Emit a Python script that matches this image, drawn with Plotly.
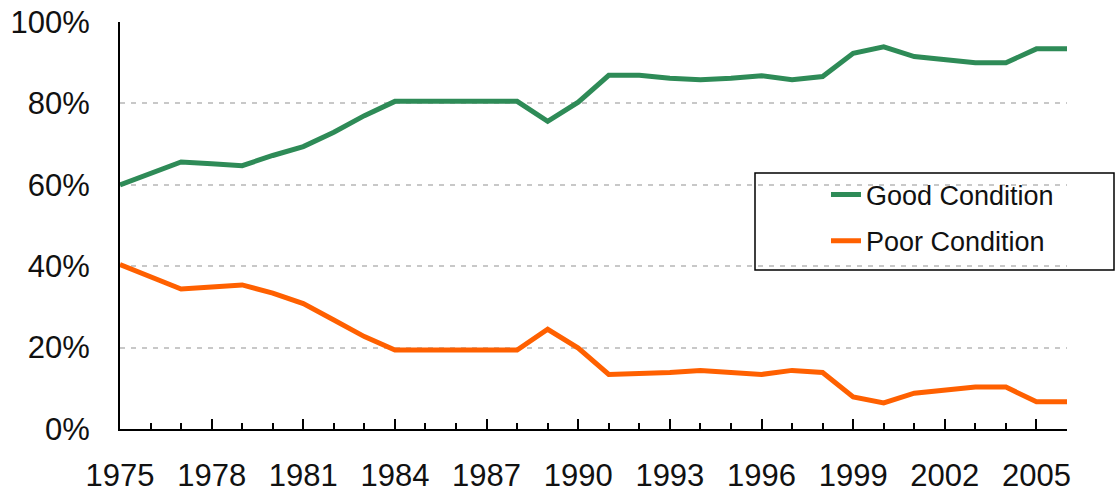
import plotly.graph_objects as go

years = list(range(1975, 2007))
good = [60.0, 62.8, 65.6, 65.2, 64.7, 67.2, 69.4, 72.9, 77.0, 80.5,
        80.5, 80.5, 80.5, 80.5, 75.6, 80.3, 86.9, 86.9, 86.2, 85.8,
        86.2, 86.8, 85.8, 86.6, 92.3, 93.9, 91.5, 90.8, 90.0, 90.0,
        93.4, 93.4]
poor = [40.4, 37.4, 34.4, 34.9, 35.4, 33.4, 30.8, 26.8, 22.7, 19.4,
        19.4, 19.4, 19.4, 19.4, 24.5, 19.9, 13.4, 13.5, 13.9, 14.4,
        14.0, 13.4, 14.4, 13.9, 7.9, 6.4, 8.8, 9.4, 10.3, 10.3,
        6.7, 6.7]
series_names = ["Good Condition", "Poor Condition"]
series_colors = ["#2E8B57", "#FF6000"]
y_ticks = [0, 20, 40, 60, 80, 100]
y_ticktext = [f"{v}%" for v in y_ticks]

FONT = "Liberation Sans, Arial, sans-serif"
TXT = "#111111"

fig = go.Figure()
for i, (name, vals) in enumerate(zip(series_names, [good, poor])):
    fig.add_trace(go.Scatter(
        x=years, y=vals, mode="lines", name=name,
        line=dict(color=series_colors[i], width=5),
        legendgroup=name,
    ))

fig.update_layout(
    width=1117, height=493,
    margin=dict(l=120, r=50, t=22, b=64),
    paper_bgcolor="white", plot_bgcolor="white",
    font=dict(family=FONT, color=TXT),
    showlegend=True,
    legend=dict(
        x=0.7455, y=0.635, xanchor="left", yanchor="top",
        font=dict(size=27, family=FONT, color=TXT),
        bgcolor="rgba(0,0,0,0)", borderwidth=0,
        tracegroupgap=8,
    ),
    xaxis=dict(
        range=[1975, 2006], tick0=1975, dtick=3,
        automargin=False, ticklabeloverflow="allow",
        showgrid=False, zeroline=False,
        showline=True, linecolor="black", linewidth=2,
        ticks="inside", ticklen=10, tickwidth=1.5, tickcolor="black",
        minor=dict(ticks="inside", ticklen=6, dtick=1, tick0=1975,
                   tickcolor="black", tickwidth=1.5, showgrid=False),
        tickfont=dict(size=31, family=FONT, color=TXT),
        ticklabelstandoff=18,
    ),
    yaxis=dict(
        range=[0, 100], tickvals=y_ticks, ticktext=y_ticktext,
        automargin=False, ticklabeloverflow="allow",
        showgrid=True, gridcolor="#C8C8C8", griddash="5px,6px", gridwidth=1.5,
        zeroline=False,
        showline=True, linecolor="black", linewidth=2,
        ticks="",
        tickfont=dict(size=31, family=FONT, color=TXT),
        ticklabelstandoff=22,
    ),
    shapes=[dict(
        type="rect", xref="paper", yref="paper",
        x0=(755 - 120) / 947, x1=(1114 - 120) / 947,
        y0=(429 - 270) / 407, y1=(429 - 173) / 407,
        line=dict(color="black", width=1.5), fillcolor="white", layer="below",
    )],
)

fig.write_html(
    "out.html",
    config={"displayModeBar": False},
    post_script="document.body.style.margin='0';document.body.style.overflow='hidden';",
)
